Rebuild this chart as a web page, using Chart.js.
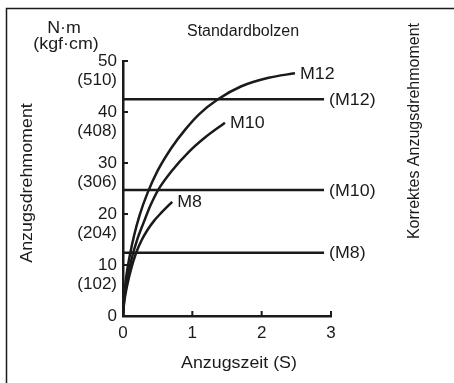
<!DOCTYPE html>
<html>
<head>
<meta charset="utf-8">
<script src="https://cdn.jsdelivr.net/npm/chart.js@4"></script>
<style>
  html, body { margin: 0; padding: 0; background: #fff; }
  #wrap { width: 454px; height: 383px; }
</style>
</head>
<body>
<div id="wrap"><canvas id="torqueChart" width="454" height="383"></canvas></div>
<script>
// Tightening curves (time in s, torque in N·m)
const curveNames = ['M12', 'M10', 'M8'];
const m12Time   = [0, 0.01, 0.02, 0.05, 0.1, 0.16, 0.24, 0.35, 0.5, 0.7, 0.9, 1.1, 1.37, 1.7, 2.1, 2.48];
const m12Torque = [0, 2.5, 4.5, 8, 12, 15.8, 19.8, 24.0, 28.5, 33.0, 36.6, 39.6, 42.5, 45.0, 46.7, 47.6];
const m10Time   = [0, 0.01, 0.02, 0.06, 0.12, 0.2, 0.3, 0.4, 0.51, 0.7, 0.95, 1.2, 1.47];
const m10Torque = [0, 2, 3.5, 7, 11, 14.8, 18.4, 21.8, 24.8, 28.4, 32.2, 35.2, 37.9];
const m8Time    = [0, 0.01, 0.02, 0.06, 0.12, 0.19, 0.27, 0.36, 0.45, 0.55, 0.71];
const m8Torque  = [0, 1.8, 3, 6, 9.4, 12.4, 14.9, 17.0, 18.7, 20.2, 22.4];

// Correct tightening torque levels
const correctLabels = ['(M12)', '(M10)', '(M8)'];
const correctTorque = [42.5, 24.7, 12.4];
const correctSpan = [0, 2.9];

// Axis ticks
const yTicks = [0, 10, 20, 30, 40, 50];
const kgfTicks = ['', '(102)', '(204)', '(306)', '(408)', '(510)'];
const xTicks = [0, 1, 2, 3];

const FONT = 'Liberation Sans, Arial, Helvetica, sans-serif';
const INK = '#1a1a1a';

function toPoints(xs, ys) {
    return xs.map((x, i) => ({ x: x, y: ys[i] }));
}

const curveData = [toPoints(m12Time, m12Torque), toPoints(m10Time, m10Torque), toPoints(m8Time, m8Torque)];

const datasets = [];
curveData.forEach((pts, i) => {
    datasets.push({
        label: curveNames[i],
        data: pts,
        borderColor: INK,
        borderWidth: 2.5,
        cubicInterpolationMode: 'monotone'
    });
});
correctTorque.forEach((v, i) => {
    datasets.push({
        label: correctLabels[i],
        data: correctSpan.map(x => ({ x: x, y: v })),
        borderColor: INK,
        borderWidth: 2.5
    });
});

// text drawn a touch wider, like the original artwork
function wideText(ctx, text, x, y, rot) {
    ctx.save();
    ctx.translate(x, y);
    if (rot) ctx.rotate(rot);
    ctx.scale(1.08, 1);
    ctx.fillText(text, 0, 0);
    ctx.restore();
}

// Draws frame, inward ticks, end labels and titles
const decorations = {
    id: 'decorations',
    afterDraw(chart) {
        const ctx = chart.ctx;
        const xs = chart.scales.x, ys = chart.scales.y;
        const area = chart.chartArea;
        ctx.save();
        ctx.strokeStyle = INK;
        ctx.fillStyle = INK;

        // outer frame (right and bottom edges fall outside)
        ctx.lineWidth = 1.5;
        ctx.strokeRect(6.5, 8.5, 470, 400);

        // inward tick marks
        ctx.lineWidth = 2;
        ctx.beginPath();
        yTicks.forEach(v => {
            const py = ys.getPixelForValue(v);
            ctx.moveTo(area.left, py);
            ctx.lineTo(area.left + 5, py);
        });
        xTicks.forEach(v => {
            const px = xs.getPixelForValue(v);
            ctx.moveTo(px, area.bottom);
            ctx.lineTo(px, area.bottom - 5);
        });
        ctx.stroke();

        ctx.font = '16.5px ' + FONT;
        ctx.textBaseline = 'middle';
        ctx.textAlign = 'left';
        chart.data.datasets.forEach((ds, i) => {
            const meta = chart.getDatasetMeta(i);
            const last = meta.data[meta.data.length - 1];
            wideText(ctx, ds.label, last.x + 5, last.y + 1);
        });

        ctx.textAlign = 'center';
        wideText(ctx, 'N·m', 64, 28);
        wideText(ctx, '(kgf·cm)', 66, 44);
        wideText(ctx, 'Anzugszeit (S)', 239, 363);
        wideText(ctx, 'Anzugsdrehmoment', 27, 183, -Math.PI / 2);

        ctx.font = '16px ' + FONT;
        ctx.fillText('Standardbolzen', 243, 32);

        ctx.save();
        ctx.translate(415, 131);
        ctx.rotate(-Math.PI / 2);
        ctx.fillText('Korrektes Anzugsdrehmoment', 0, 0);
        ctx.restore();

        ctx.restore();
    }
};

new Chart(document.getElementById('torqueChart'), {
    type: 'scatter',
    data: { datasets: datasets },
    plugins: [decorations],
    options: {
        responsive: false,
        animation: false,
        showLine: true,
        elements: { point: { radius: 0 } },
        layout: { padding: { left: 0, right: 123, top: 61, bottom: 0 } },
        plugins: { legend: { display: false }, tooltip: { enabled: false } },
        scales: {
            x: {
                type: 'linear',
                min: 0,
                max: 3,
                afterFit(scale) { scale.height = 67; },
                afterBuildTicks(scale) { scale.ticks = xTicks.map(v => ({ value: v })); },
                grid: { display: false, drawTicks: false },
                border: { display: true, color: INK, width: 2.5 },
                ticks: { color: INK, padding: 7, autoSkip: false, maxRotation: 0, font: { family: FONT, size: 17 } }
            },
            y: {
                type: 'linear',
                min: 0,
                max: 50,
                afterFit(scale) { scale.width = 123; },
                afterBuildTicks(scale) { scale.ticks = yTicks.map(v => ({ value: v })); },
                grid: { display: false, drawTicks: false },
                border: { display: true, color: INK, width: 2.5 },
                ticks: {
                    color: INK,
                    padding: 6,
                    autoSkip: false,
                    font: { family: FONT, size: 17, lineHeight: '19px' },
                    callback(value) {
                        const i = yTicks.indexOf(value);
                        return kgfTicks[i] ? ['', String(value), kgfTicks[i]] : String(value);
                    }
                }
            }
        }
    }
});
</script>
</body>
</html>
